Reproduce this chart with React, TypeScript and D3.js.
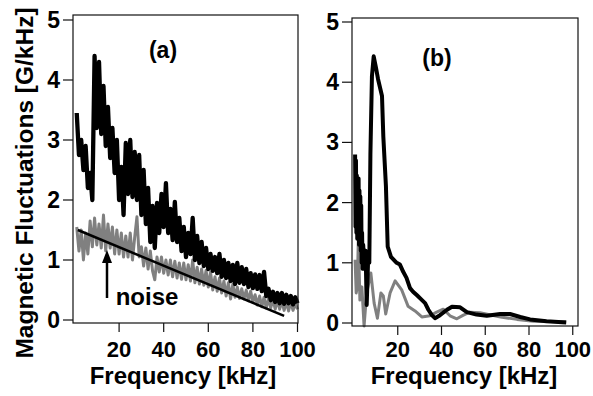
import * as d3 from "d3"

// panel (a): raw spectra sampled every 1 kHz
const freqA = d3.range(1, 101)
const fluctA = [
  3.45, 2.75, 3.0, 2.5, 2.9, 2.2, 2.45, 2.0, 4.4, 3.2,
  4.3, 3.1, 3.9, 2.9, 3.55, 2.7, 3.2, 2.45, 3.0, 2.0,
  2.55, 1.75, 2.95, 2.1, 3.0, 2.05, 2.8, 2.0, 2.75, 1.75,
  2.5, 1.6, 2.2, 1.3, 1.9, 1.2, 1.95, 1.45, 2.1, 1.55,
  2.28, 1.45, 1.85, 1.33, 1.97, 1.3, 1.7, 1.15, 1.55, 1.05,
  1.45, 1.1, 1.7, 1.0, 1.4, 0.95, 1.3, 0.9, 1.2, 0.85,
  1.1, 0.82, 1.05, 0.78, 1.1, 0.72, 1.0, 0.7, 0.95, 0.65,
  0.92, 0.6, 0.95, 0.62, 0.88, 0.6, 0.85, 0.55, 0.78, 0.53,
  0.76, 0.52, 0.75, 0.48, 0.8, 0.4, 0.52, 0.33, 0.47, 0.3,
  0.45, 0.28, 0.45, 0.27, 0.42, 0.28, 0.4, 0.26, 0.38, 0.28,
]
const noiseA = [
  1.55, 1.15, 1.5, 1.0, 1.45, 1.1, 1.65, 1.22, 1.7, 1.25,
  1.6, 1.2, 1.75, 1.15, 1.6, 1.2, 1.55, 1.1, 1.5, 1.1,
  1.45, 1.05, 1.4, 1.05, 1.45, 1.0, 1.38, 1.72, 1.05, 1.22,
  0.9, 1.2, 0.85, 1.15, 0.82, 0.67, 1.05, 0.8, 1.05, 0.78,
  1.0, 0.75, 1.0, 0.72, 0.98, 0.7, 0.95, 0.68, 0.95, 0.67,
  0.92, 0.65, 1.0, 0.62, 0.88, 0.6, 0.85, 0.58, 0.83, 0.55,
  0.8, 0.5, 0.72, 0.48, 0.7, 0.45, 0.65, 0.4, 0.62, 0.35,
  0.6, 0.38, 0.55, 0.36, 0.52, 0.35, 0.5, 0.32, 0.48, 0.3,
  0.42, 0.25, 0.4, 0.22, 0.38, 0.2, 0.36, 0.2, 0.35, 0.18,
  0.33, 0.18, 0.32, 0.16, 0.3, 0.15, 0.3, 0.16, 0.28, 0.18,
]
// fitted noise level (start and end of the straight line)
const fitFreq = [1.5, 94]
const fitValue = [1.5, 0.07]

// panel (b): smoothed spectra
const freqB = [
  0.5, 0.7, 0.9, 1.1, 1.3, 1.5, 1.7, 1.9, 2.1, 2.3, 2.5, 2.7, 2.9, 3.1, 3.3, 3.5,
  3.7, 3.9, 4.2, 4.8, 5.3, 5.8, 6.5, 7.0,
  7.5, 8.2, 9.0, 10, 11, 12.8, 13.4, 14.6, 15.4, 16.9, 19.5, 21, 22.5, 24, 25.6,
  27, 28.8, 30.5, 32.5, 34, 35.6, 37, 39.3, 42.5, 44.8, 48.5, 51.6, 56, 60.7,
  66.8, 71.3, 76, 80.5, 88, 97,
]
const fluctB = [
  2.8, 1.6, 2.7, 1.5, 2.45, 1.4, 2.4, 1.5, 2.4, 1.3, 2.2, 1.3, 2.1, 1.2, 1.95, 1.0,
  1.5, 0.9, 1.3, 0.9, 1.2, 0.3, 1.1, 1.0,
  2.8, 4.1, 4.43, 4.25, 4.05, 3.77, 3.1, 2.27, 1.27, 1.1, 1.0, 0.97, 0.85, 0.75, 0.58,
  0.52, 0.46, 0.4, 0.33, 0.22, 0.13, 0.08, 0.13, 0.22, 0.27, 0.26, 0.18, 0.14, 0.12,
  0.15, 0.15, 0.1, 0.06, 0.03, 0.01,
]
const freqNoiseB = [
  0.5, 1.0, 1.5, 2.0, 2.7, 3.6, 4.6, 5.8, 7.7, 9.2, 10.7, 12.3, 13.4, 14.5, 16.5,
  18.8, 21.8, 24.7, 27.9, 31, 34.7, 37.8, 40.8, 43.9, 47, 50, 53, 57.6, 67, 74.5,
  82, 97,
]
const noiseB = [
  1.05, 0.5, 0.6, 1.43, 0.38, 0.6, -0.05, 0.5, 0.83, 0.33, 0.08, 0.5, 0.45, 0.15, 0.5,
  0.7, 0.55, 0.28, 0.2, 0.1, 0.12, 0.18, 0.23, 0.12, 0.07, 0.13, 0.18, 0.17, 0.1, 0.06,
  0.03, 0.02,
]

const xTicks = [20, 40, 60, 80, 100]
const yTicks = [0, 1, 2, 3, 4, 5]

const FONT = "'Liberation Sans', Arial, Helvetica, sans-serif"

type Series = { x: number[]; y: number[]; color: string; width: number }

function Panel({
  box,
  xRange,
  yRange,
  series,
  label,
  labelPos,
  titleX,
  children,
}: {
  box: [number, number, number, number]
  xRange: [number, number]
  yRange: [number, number]
  series: Series[]
  label: string
  labelPos: [number, number]
  titleX: number
  children?: (x: d3.ScaleLinear<number, number>, y: d3.ScaleLinear<number, number>) => any
}) {
  const [left, top, right, bottom] = box
  const x = d3.scaleLinear().domain([0, 100]).range(xRange)
  const y = d3.scaleLinear().domain([0, 5]).range(yRange)
  const line = d3
    .line<[number, number]>()
    .x((d) => x(d[0]))
    .y((d) => y(d[1]))

  return (
    <g>
      {series.map((s, i) => (
        <path
          key={i}
          d={line(s.x.map((f, j) => [f, s.y[j]] as [number, number])) || ""}
          fill="none"
          stroke={s.color}
          strokeWidth={s.width}
          strokeLinejoin="round"
        />
      ))}
      {children && children(x, y)}
      <rect x={left} y={top} width={right - left} height={bottom - top} fill="none" stroke="#111" strokeWidth={1.2} />
      {yTicks.map((t) => (
        <g key={t}>
          <line x1={left - 10} x2={left} y1={y(t)} y2={y(t)} stroke="#111" strokeWidth={1.2} />
          <text x={left - 13} y={y(t) + 8} textAnchor="end" fontSize={23} fontWeight="bold" fontFamily={FONT}>
            {t}
          </text>
        </g>
      ))}
      {xTicks.map((t) => (
        <g key={t}>
          <line x1={x(t)} x2={x(t)} y1={bottom} y2={bottom + 9} stroke="#111" strokeWidth={1.2} />
          <text x={x(t)} y={357} textAnchor="middle" fontSize={22} fontWeight="bold" fontFamily={FONT}>
            {t}
          </text>
        </g>
      ))}
      <text x={titleX} y={384} textAnchor="middle" fontSize={24} fontWeight="bold" fontFamily={FONT}>
        Frequency [kHz]
      </text>
      <text x={labelPos[0]} y={labelPos[1]} textAnchor="middle" fontSize={23} fontWeight="bold" fontFamily={FONT}>
        {label}
      </text>
    </g>
  )
}

export default function App() {
  return (
    <svg width={593} height={396} style={{ position: "absolute", left: 0, top: 0, background: "white" }}>
      <Panel
        box={[73, 15, 298, 323]}
        xRange={[74.5, 297.5]}
        yRange={[320, 20]}
        label="(a)"
        labelPos={[163, 58]}
        titleX={183}
        series={[
          { x: freqA, y: noiseA, color: "#808080", width: 3 },
          { x: freqA, y: fluctA, color: "#000", width: 4.3 },
        ]}
      >
        {(x, y) => (
          <g>
            <line
              x1={x(fitFreq[0])}
              y1={y(fitValue[0])}
              x2={x(fitFreq[1])}
              y2={y(fitValue[1])}
              stroke="#000"
              strokeWidth={2.5}
            />
            <line x1={107} x2={107} y1={298} y2={258} stroke="#000" strokeWidth={2.5} />
            <path d="M107,250 L112,263 L102,263 Z" fill="#000" />
            <text x={147} y={305} textAnchor="middle" fontSize={24} fontWeight="bold" fontFamily={FONT}>
              noise
            </text>
          </g>
        )}
      </Panel>
      <Panel
        box={[352, 18, 578, 326]}
        xRange={[354, 572.75]}
        yRange={[323, 22]}
        label="(b)"
        labelPos={[437, 66]}
        titleX={464}
        series={[
          { x: freqNoiseB, y: noiseB, color: "#808080", width: 3 },
          { x: freqB, y: fluctB, color: "#000", width: 4 },
        ]}
      />
      <text
        transform="translate(33,183) rotate(-90)"
        textAnchor="middle"
        fontSize={24.5}
        fontWeight="bold"
        fontFamily={FONT}
      >
        Magnetic Fluctuations [G/kHz]
      </text>
    </svg>
  )
}
